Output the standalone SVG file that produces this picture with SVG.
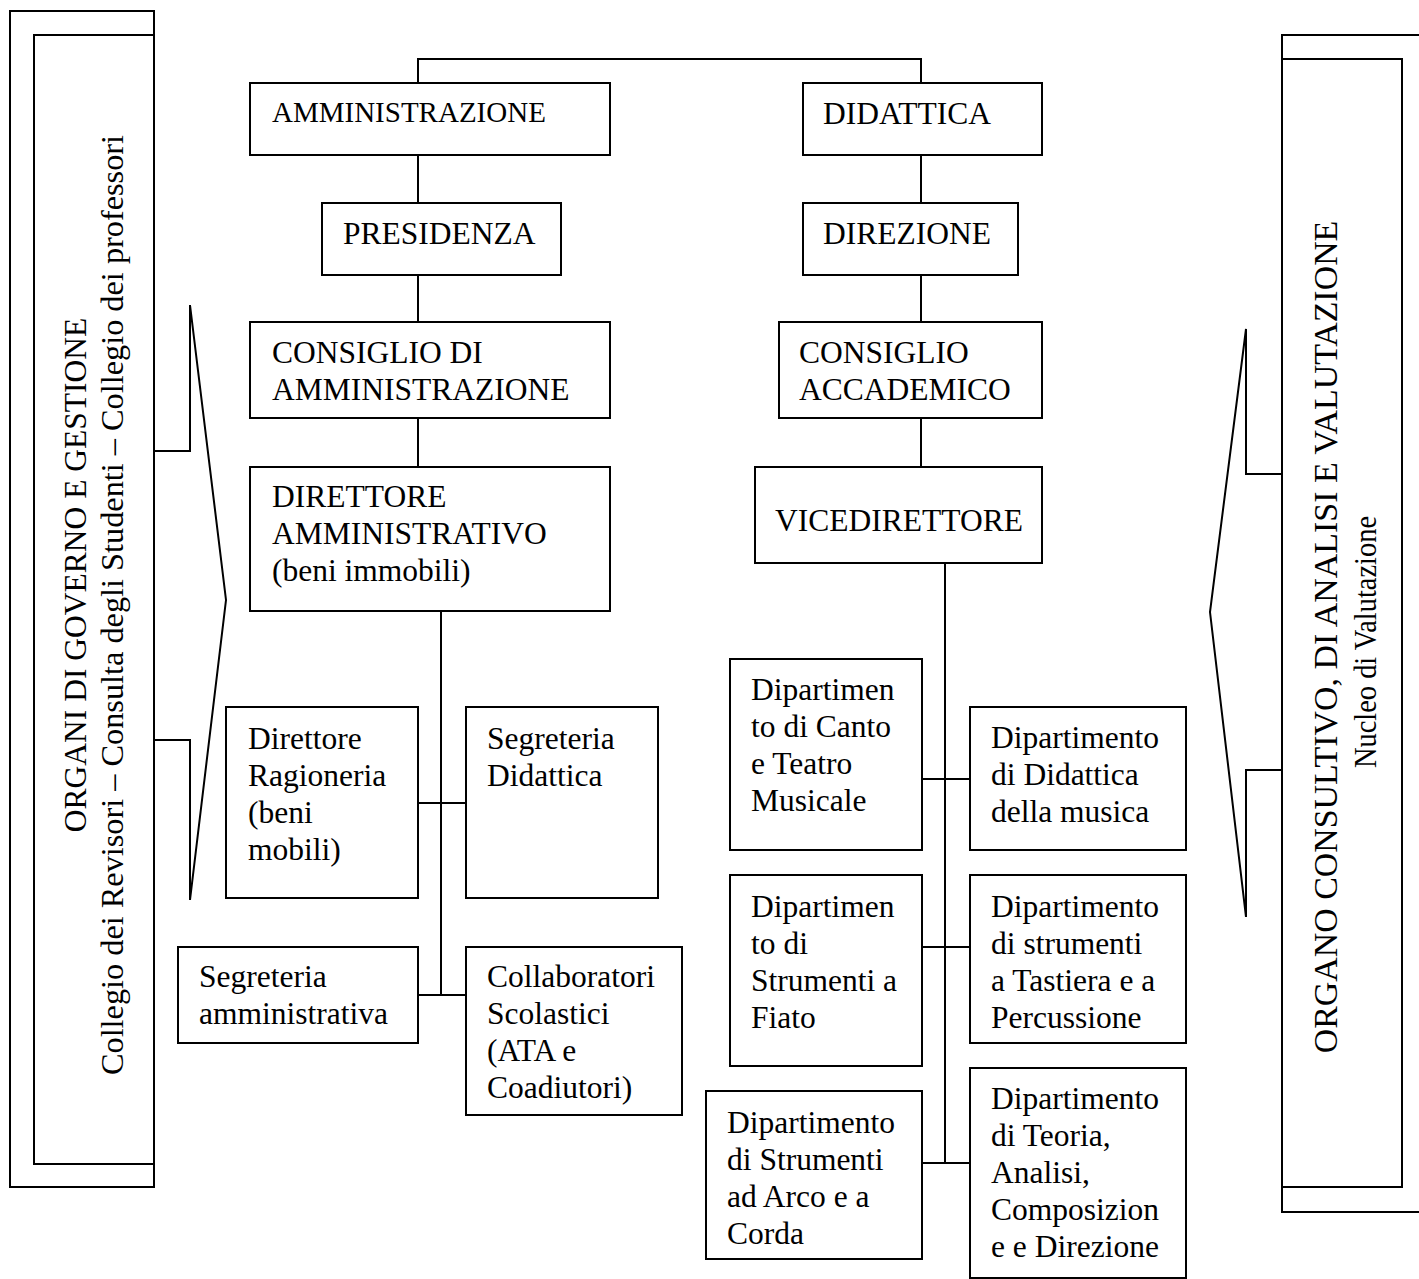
<svg xmlns="http://www.w3.org/2000/svg" width="1419" height="1279" viewBox="0 0 1419 1279">
<style>
.b{fill:#fff;stroke:#000;stroke-width:2}
.l{fill:none;stroke:#000;stroke-width:2}
text{font-family:"Liberation Serif","Times New Roman",serif;font-size:31.5px;fill:#000}
</style>
<rect width="1419" height="1279" fill="#fff"/>
<g id="connectors">
<path class="l" d="M418 83V59H921V83"/>
<path class="l" d="M418 155V203M418 275V322M418 418V467"/>
<path class="l" d="M921 155V203M921 275V322M921 418V467"/>
<path class="l" d="M441 611V995M418 803H466M418 995H466"/>
<path class="l" d="M945 563V1163M922 779H970M922 947H970M922 1163H970"/>
</g>
<g id="panel-left">
<rect class="b" x="10" y="11" width="144" height="1176"/>
<rect class="b" x="34" y="35" width="120" height="1129"/>
<path class="l" d="M154 451H190V305L226 600L190 900V740H154"/>
<text transform="translate(86,575) rotate(-90)" text-anchor="middle">ORGANI DI GOVERNO E GESTIONE</text>
<text transform="translate(123,605) rotate(-90)" text-anchor="middle" style="font-size:32.3px">Collegio dei Revisori – Consulta degli Studenti – Collegio dei professori</text>
</g>
<g id="panel-right">
<rect class="b" x="1282" y="35" width="150" height="1177"/>
<rect class="b" x="1282" y="59" width="120" height="1128"/>
<path class="l" d="M1282 474H1246V329L1210 612L1246 917V770H1282"/>
<text transform="translate(1337,637) rotate(-90)" text-anchor="middle" style="font-size:33.9px">ORGANO CONSULTIVO, DI ANALISI E VALUTAZIONE</text>
<text transform="translate(1376,642) rotate(-90)" text-anchor="middle" textLength="252" lengthAdjust="spacingAndGlyphs">Nucleo di Valutazione</text>
</g>
<g id="amministrazione"><rect class="b" x="250" y="83" width="360" height="72"/><text x="272" y="122" style="font-size:29px">AMMINISTRAZIONE</text></g>
<g id="didattica"><rect class="b" x="803" y="83" width="239" height="72"/><text x="823" y="124">DIDATTICA</text></g>
<g id="presidenza"><rect class="b" x="322" y="203" width="239" height="72"/><text x="343" y="244">PRESIDENZA</text></g>
<g id="direzione"><rect class="b" x="803" y="203" width="215" height="72"/><text x="823" y="244">DIREZIONE</text></g>
<g id="consiglio-amm"><rect class="b" x="250" y="322" width="360" height="96"/><text x="272" y="363">CONSIGLIO DI</text><text x="272" y="400">AMMINISTRAZIONE</text></g>
<g id="consiglio-acc"><rect class="b" x="779" y="322" width="263" height="96"/><text x="799" y="363">CONSIGLIO</text><text x="799" y="400">ACCADEMICO</text></g>
<g id="direttore-amm"><rect class="b" x="250" y="467" width="360" height="144"/><text x="272" y="507">DIRETTORE</text><text x="272" y="544">AMMINISTRATIVO</text><text x="272" y="581">(beni immobili)</text></g>
<g id="vicedirettore"><rect class="b" x="755" y="467" width="287" height="96"/><text x="775" y="531">VICEDIRETTORE</text></g>
<g id="ragioneria"><rect class="b" x="226" y="707" width="192" height="191"/><text x="248" y="749">Direttore</text><text x="248" y="786">Ragioneria</text><text x="248" y="823">(beni</text><text x="248" y="860">mobili)</text></g>
<g id="segr-didattica"><rect class="b" x="466" y="707" width="192" height="191"/><text x="487" y="749">Segreteria</text><text x="487" y="786">Didattica</text></g>
<g id="segr-amm"><rect class="b" x="178" y="947" width="240" height="96"/><text x="199" y="987">Segreteria</text><text x="199" y="1024">amministrativa</text></g>
<g id="collaboratori"><rect class="b" x="466" y="947" width="216" height="168"/><text x="487" y="987">Collaboratori</text><text x="487" y="1024">Scolastici</text><text x="487" y="1061">(ATA e</text><text x="487" y="1098">Coadiutori)</text></g>
<g id="dip-canto"><rect class="b" x="730" y="659" width="192" height="191"/><text x="751" y="700">Dipartimen</text><text x="751" y="737">to di Canto</text><text x="751" y="774">e Teatro</text><text x="751" y="811">Musicale</text></g>
<g id="dip-didattica"><rect class="b" x="970" y="707" width="216" height="143"/><text x="991" y="748">Dipartimento</text><text x="991" y="785">di Didattica</text><text x="991" y="822">della musica</text></g>
<g id="dip-fiato"><rect class="b" x="730" y="875" width="192" height="191"/><text x="751" y="917">Dipartimen</text><text x="751" y="954">to di</text><text x="751" y="991">Strumenti a</text><text x="751" y="1028">Fiato</text></g>
<g id="dip-tastiera"><rect class="b" x="970" y="875" width="216" height="168"/><text x="991" y="917">Dipartimento</text><text x="991" y="954">di strumenti</text><text x="991" y="991">a Tastiera e a</text><text x="991" y="1028">Percussione</text></g>
<g id="dip-arco"><rect class="b" x="706" y="1091" width="216" height="168"/><text x="727" y="1133">Dipartimento</text><text x="727" y="1170">di Strumenti</text><text x="727" y="1207">ad Arco e a</text><text x="727" y="1244">Corda</text></g>
<g id="dip-teoria"><rect class="b" x="970" y="1068" width="216" height="210"/><text x="991" y="1109">Dipartimento</text><text x="991" y="1146">di Teoria,</text><text x="991" y="1183">Analisi,</text><text x="991" y="1220">Composizion</text><text x="991" y="1257">e e Direzione</text></g>
</svg>
